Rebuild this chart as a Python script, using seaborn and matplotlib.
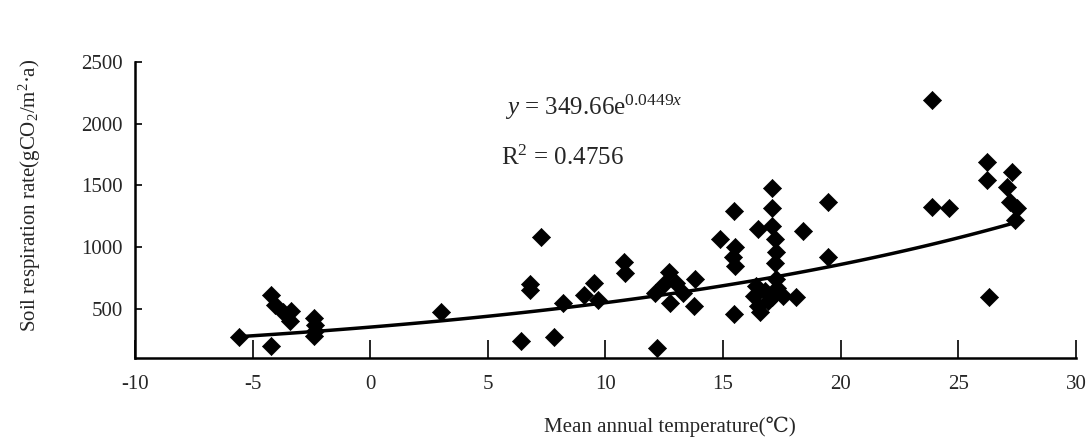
import numpy as np
import pandas as pd
import matplotlib
matplotlib.use('Agg')
import matplotlib.pyplot as plt
import seaborn as sns

# Mean annual temperature (C) and soil respiration rate
temperature = [-5.6, -4.2, -4.2, -4.05, -3.7, -3.35, -3.4, -2.4, -2.35, -2.35, -2.4,
               3.0, 6.4, 6.8, 6.8, 7.26, 7.8, 8.2, 9.1, 9.5, 9.7, 10.8, 10.85,
               12.2, 12.1, 12.5, 12.7, 13.0, 12.75, 13.3, 13.8, 13.75,
               14.85, 15.45, 15.5, 15.4, 15.5, 15.45,
               16.5, 17.1, 17.1, 17.1, 17.2, 17.25, 17.2, 17.25, 17.3,
               16.4, 16.3, 16.5, 16.55, 16.8, 16.9, 17.1, 17.55, 18.1, 18.4,
               19.45, 19.45, 23.9, 23.9, 24.6, 26.2, 26.2, 26.3,
               27.3, 27.05, 27.2, 27.5, 27.4]
respiration = [270, 200, 610, 530, 470, 480, 400, 420, 370, 320, 280,
               470, 235, 700, 650, 1080, 270, 545, 610, 705, 570, 880, 790,
               180, 625, 700, 800, 705, 545, 625, 740, 520,
               1065, 1290, 1000, 920, 845, 455,
               1145, 1170, 1480, 1320, 1065, 960, 870, 740, 670,
               680, 600, 520, 470, 640, 560, 590, 600, 590, 1130,
               1365, 920, 2195, 1325, 1320, 1690, 1545, 595,
               1610, 1490, 1365, 1320, 1220]

# exponential fit shown on the chart
fit_a = 349.66
fit_b = 0.0449
r_squared = 0.4756

x_ticks = [-10, -5, 0, 5, 10, 15, 20, 25, 30]
y_ticks = [500, 1000, 1500, 2000, 2500]

df = pd.DataFrame({'temp': temperature, 'resp': respiration})
fit_x = np.linspace(min(temperature), max(temperature), 100)
fit_df = pd.DataFrame({'temp': fit_x, 'resp': fit_a * np.exp(fit_b * fit_x)})

sns.set_style('white')
plt.rcParams['font.family'] = ['Liberation Serif', 'DejaVu Serif']
plt.rcParams['mathtext.fontset'] = 'custom'
plt.rcParams['mathtext.rm'] = 'Liberation Serif'
plt.rcParams['mathtext.it'] = 'Liberation Serif:italic'
plt.rcParams['axes.unicode_minus'] = False

fig = plt.figure(figsize=(10.89, 4.44), dpi=100)
ax = fig.add_axes([0.124, 0.194, 0.864, 0.666])

sns.scatterplot(data=df, x='temp', y='resp', marker='D', s=85, color='black',
                edgecolor='black', linewidth=0.5, ax=ax, zorder=3)
sns.lineplot(data=fit_df, x='temp', y='resp', color='black', linewidth=2.5, ax=ax, zorder=2)

ax.set_xlim(-10, 30)
ax.set_ylim(100, 2500)
ax.set_xticks(x_ticks)
ax.set_yticks(y_ticks)
ax.tick_params(axis='x', bottom=True, direction='in', length=13, width=1.2,
               pad=12, labelsize=15, color='black')
ax.tick_params(axis='y', left=True, direction='in', length=5, width=1.2,
               pad=9, labelsize=15, color='black')

for side in ['top', 'right']:
    ax.spines[side].set_visible(False)
for side in ['left', 'bottom']:
    ax.spines[side].set_linewidth(1.8)
    ax.spines[side].set_color('black')

ax.set_xlabel('Mean annual temperature(\u2103)', fontsize=15)
ax.set_ylabel('Soil respiration rate(gCO$_2$/m$^2$\u00b7a)', fontsize=15)
ax.xaxis.set_label_coords(0.568, -0.2)
ax.yaxis.set_label_coords(-0.098, 0.55)

ax.text(0.393, 0.821, '$y$ = 349.66e$^{0.0449x}$', transform=ax.transAxes, fontsize=18)
ax.text(0.389, 0.652, 'R$^2$ = %.4f' % r_squared, transform=ax.transAxes, fontsize=18)

fig.savefig('out.png', dpi=100)
